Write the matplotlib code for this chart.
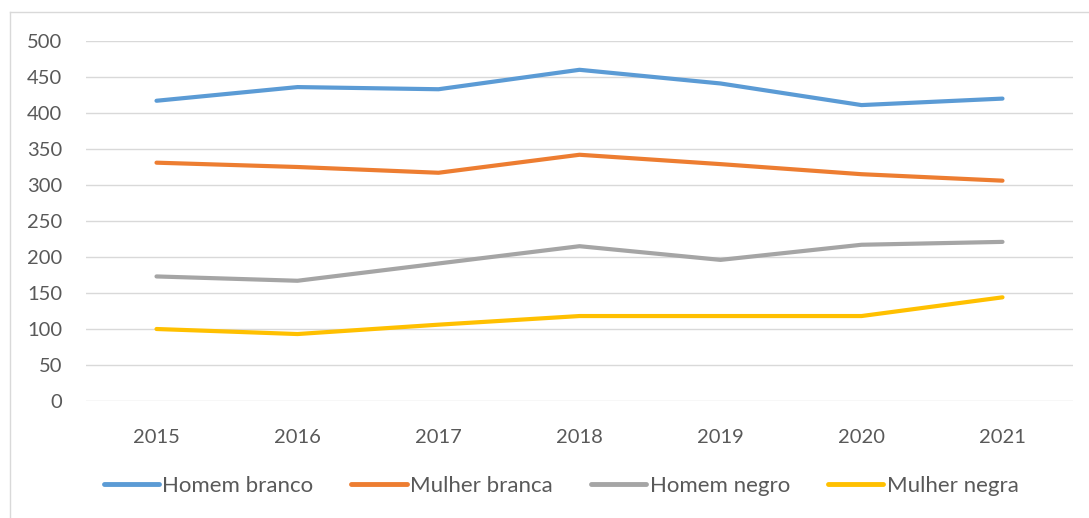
import matplotlib
matplotlib.use("Agg")
import matplotlib.pyplot as plt
from matplotlib.lines import Line2D

plt.rcParams['font.family'] = ['Lato', 'DejaVu Sans']

years = ["2015", "2016", "2017", "2018", "2019", "2020", "2021"]
homem_branco = [417, 436, 433, 460, 441, 411, 420]
mulher_branca = [331, 325, 317, 342, 329, 315, 306]
homem_negro = [173, 167, 191, 215, 196, 217, 221]
mulher_negra = [100, 93, 106, 118, 118, 118, 144]
series_names = ["Homem branco", "Mulher branca", "Homem negro", "Mulher negra"]
yticks = [0, 50, 100, 150, 200, 250, 300, 350, 400, 450, 500]

colors = ["#5B9BD5", "#ED7D31", "#A5A5A5", "#FFC000"]
text_color = "#595959"

W, H = 1089, 518
fig = plt.figure(figsize=(W / 100, H / 100), dpi=100)
ax = fig.add_axes([86 / W, (H - 401) / H, (1073 - 86) / W, 360 / H])

x = list(range(len(years)))
for vals, c, name in zip([homem_branco, mulher_branca, homem_negro, mulher_negra], colors, series_names):
    ax.plot(x, vals, color=c, lw=3.0, solid_capstyle='round', solid_joinstyle='round', label=name, zorder=3)

ax.set_xlim(-0.5, len(years) - 0.5)
ax.set_ylim(0, 500)
ax.set_yticks(yticks)
ax.set_yticklabels([str(v) for v in yticks])
ax.set_xticks(x)
ax.set_xticklabels(years)
ax.grid(axis='y', color='#D9D9D9', lw=1.0, zorder=0)
ax.set_axisbelow(True)
for s in ax.spines.values():
    s.set_visible(False)
ax.tick_params(axis='y', length=0, pad=17, labelsize=14.5, labelcolor=text_color)
ax.tick_params(axis='x', length=0, pad=20, labelsize=14.5, labelcolor=text_color)

handles = [Line2D([0], [0], color=c, lw=3.5, solid_capstyle='round') for c in colors]
leg = fig.legend(handles, series_names, loc='center', bbox_to_anchor=(561 / W, (H - 486) / H),
                 ncol=4, frameon=False, fontsize=16, handlelength=2.5, handletextpad=0.15,
                 columnspacing=1.7, labelcolor=text_color)

# chart border (top and left visible)
fig.add_artist(Line2D([10 / W, 10 / W], [0, (H - 12) / H], color='#D9D9D9', lw=1.0, transform=fig.transFigure))
fig.add_artist(Line2D([10 / W, 1], [(H - 12) / H, (H - 12) / H], color='#D9D9D9', lw=1.0, transform=fig.transFigure))

fig.savefig("out.png", dpi=100)
